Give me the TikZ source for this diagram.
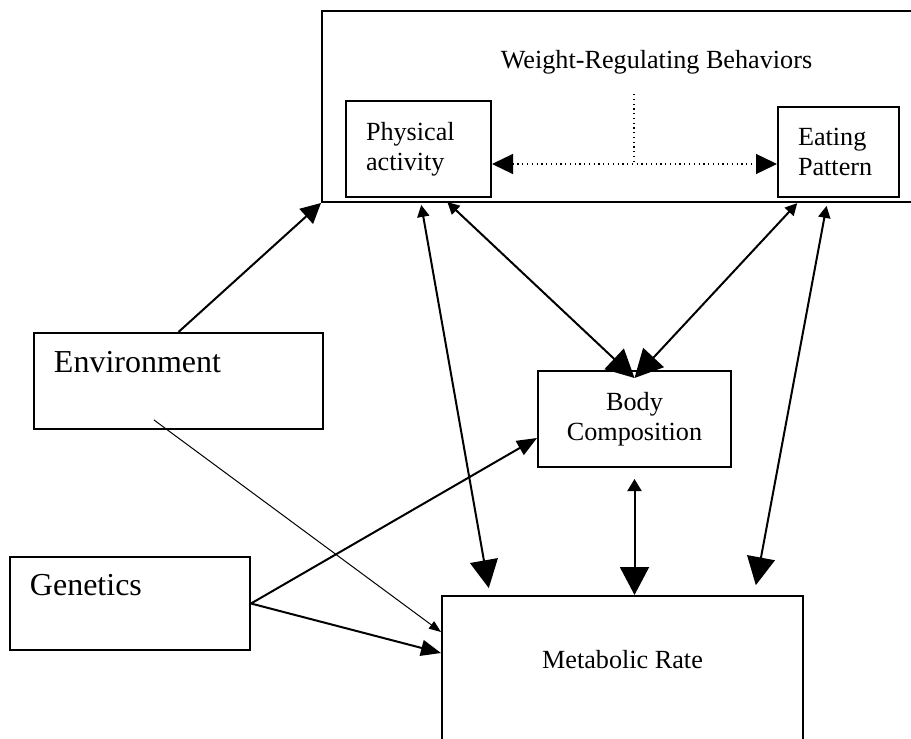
\documentclass[tikz,border=0pt]{standalone}
\usepackage{fontspec}
\setmainfont{Liberation Serif}
\usepackage{tikz}
\usetikzlibrary{arrows.meta,positioning,calc}
\newcommand{\diagfont}{\fontsize{14.9}{17}\selectfont}
\newcommand{\diaglargefont}{\fontsize{18.2}{22}\selectfont}
\tikzset{
  box/.style={draw,line width=0.4mm,inner xsep=4mm,inner ysep=0pt,
    font=\diagfont},
  groupbox/.style={draw,line width=0.4mm,inner sep=0pt,
    minimum width=123.6mm,minimum height=38.2mm},
  factor/.style={box,font=\diaglargefont,align=left,text depth=7.5mm},
  link/.style={line width=0.4mm},
  oneway/.style={link,arrows={-Triangle[length=4mm,width=3.2mm]}},
  twoway/.style={link,arrows={Triangle[length=2.4mm,width=2.4mm]-Triangle[length=5.6mm,width=5.6mm]}},
  dotlink/.style={dotted,line width=0.25mm}
}

\begin{document}
\begin{tikzpicture}[x=0.2mm,y=-0.2mm]
  \useasboundingbox (0,0) rectangle (911,739);
  % behaviours
  \node[groupbox] (wrb) at (631,106.5) {};
  \node[font=\diagfont,anchor=base] (wrbtitle) at (656.5,69) {Weight-Regulating Behaviors};
  \node[box,align=left,text width=21mm,minimum width=29mm,minimum height=19.2mm] (phys) at (418.5,149) {Physical\\activity};
  \node[box,align=left,text width=16.2mm,minimum width=24.2mm,minimum height=18mm] (eat) at (838.5,152) {Eating\\Pattern};
  \coordinate (split) at (634,164);
  \coordinate (splittop) at (634,94);
  \draw[dotlink] (splittop) -- (split);
  \draw[dotlink,arrows={Triangle[length=4.2mm,width=4mm]-Triangle[length=4.2mm,width=4mm]}] (phys.east |- split) -- (eat.west |- split);
  % factors
  \node[factor,text width=49.8mm,minimum width=57.8mm,minimum height=19.2mm] (env) at (178.5,381) {Environment};
  \node[factor,text width=40mm,minimum width=48mm,minimum height=18.6mm] (gen) at (130,603.5) {Genetics};
  \node[box,align=center,minimum width=38.6mm,minimum height=19.2mm] (body) at (634.5,419) {Body\\Composition};
  \node[box,text depth=7.6mm,minimum width=72.2mm,minimum height=32.8mm] (met) at (622.5,678) {Metabolic Rate};
  % links
  \draw[link,arrows={-Triangle[length=4mm,width=4mm]}] (env.north) -- (wrb.south west);
  \draw[twoway,shorten <=1.4mm,shorten >=1.4mm] ([xshift=0.3mm]phys.south) -- ([xshift=-26.5mm]met.north);
  \draw[twoway,shorten <=1.2mm] ([xshift=4.9mm]phys.south) -- ([yshift=-1.6mm]body.north);
  \draw[twoway,shorten <=1.4mm] ([xshift=-7.3mm]eat.south) -- ([yshift=-1.6mm]body.north);
  \draw[twoway,shorten <=1.6mm,shorten >=2mm] ([xshift=-2.1mm]eat.south) -- ([xshift=26.3mm]met.north);
  \draw[twoway,arrows={Triangle[length=2.4mm,width=2.8mm]-Triangle[length=5.6mm,width=5.8mm]},shorten <=2.2mm] (body.south) -- (body.south |- met.north);
  \draw[oneway] (gen.east) -- ([yshift=-3.8mm]body.west);
  \draw[oneway] (gen.east) -- ([yshift=-11.6mm]met.north west);
  \draw[line width=0.2mm,arrows={-Triangle[length=2.4mm,width=1.8mm]}] ([xshift=-4.9mm,yshift=2mm]env.south) -- ([yshift=-7.4mm]met.north west);
\end{tikzpicture}
\end{document}
